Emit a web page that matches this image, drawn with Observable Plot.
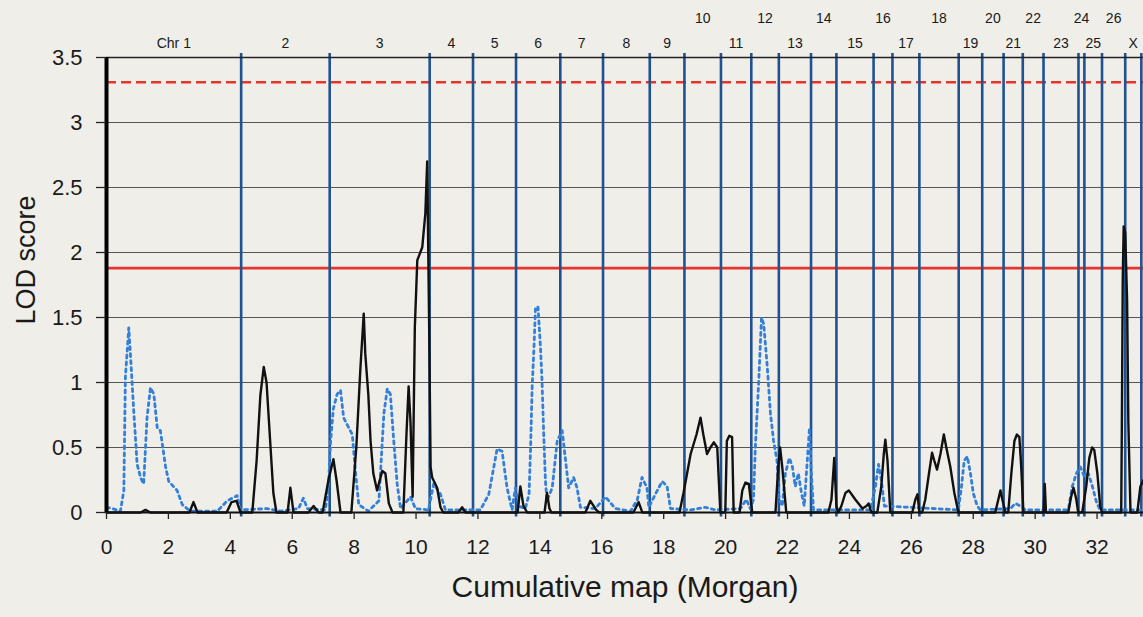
<!DOCTYPE html>
<html>
<head>
<meta charset="utf-8">
<script src="https://cdn.jsdelivr.net/npm/d3@7"></script>
<script src="https://cdn.jsdelivr.net/npm/@observablehq/plot@0.6"></script>
<style>
  html, body { margin: 0; padding: 0; background: #efeee9; }
  #chart svg { display: block; background: #efeee9; }
</style>
</head>
<body>
<div id="chart"></div>
<script>
// Chromosome names and cumulative end positions (Morgan)
const chrNames = ["Chr 1","2","3","4","5","6","7","8","9","10","11","12","13","14","15","16","17","18","19","20","21","22","23","24","25","26","X"];
const chrEnds = [4.35,7.21,10.44,11.84,13.23,14.66,16.04,17.55,18.67,19.85,20.83,21.72,22.76,23.58,24.78,25.39,26.26,27.53,28.29,28.98,29.60,30.27,31.40,31.59,32.16,32.91,33.43];
const upperRow = ["10","12","14","16","18","20","22","24","26"];

// Threshold lines (LOD)
const thresholdSolid = 1.88;
const thresholdDashed = 3.31;

// Tick values
const xTicks = [0,2,4,6,8,10,12,14,16,18,20,22,24,26,28,30,32];
const yTicks = [0,0.5,1,1.5,2,2.5,3,3.5];
const yGrid = [0.5,1,1.5,2,2.5,3];

// Solid black profile
const blackPos = [0,1.10,1.26,1.42,2.68,2.81,2.94,3.88,4.04,4.20,4.33,4.71,4.85,4.97,5.08,5.17,5.30,5.39,5.49,5.85,5.94,6.04,6.52,6.69,6.85,6.98,7.17,7.33,7.43,7.56,7.91,8.07,8.20,8.31,8.36,8.46,8.53,8.62,8.74,8.91,9.01,9.12,9.24,9.59,9.69,9.76,9.82,9.89,9.96,10.04,10.20,10.30,10.36,10.42,10.47,10.52,10.68,10.79,10.88,11.37,11.49,11.60,13.28,13.37,13.47,13.59,14.15,14.23,14.31,14.37,15.47,15.63,15.82,15.92,17.02,17.19,17.31,18.51,18.64,18.87,19.06,19.19,19.28,19.40,19.51,19.62,19.73,19.79,19.83,19.99,20.04,20.12,20.21,20.26,20.45,20.54,20.64,20.75,20.86,21.61,21.70,21.76,21.83,21.96,23.32,23.42,23.51,23.58,23.64,23.74,23.87,23.98,24.19,24.42,24.55,24.62,24.71,24.90,25.03,25.11,25.16,25.23,25.32,26.03,26.13,26.20,26.26,26.35,26.45,26.57,26.67,26.74,26.83,26.94,27.05,27.13,27.26,27.39,27.52,28.71,28.81,28.88,28.94,29.04,29.13,29.23,29.33,29.41,29.49,29.55,29.62,30.27,30.31,30.35,31.07,31.16,31.24,31.33,31.39,31.52,31.65,31.75,31.84,31.91,32.01,32.10,32.16,32.78,32.80,32.83,32.86,32.91,32.97,33.01,33.08,33.30,33.40,33.50];
const blackLod = [0,0,0.02,0,0,0.08,0,0,0.08,0.09,0,0,0.4,0.9,1.12,1.0,0.5,0.15,0,0,0.19,0,0,0.05,0,0,0.25,0.41,0.25,0,0,0.5,1.1,1.53,1.22,0.9,0.55,0.3,0.17,0.32,0.30,0.07,0,0,0.6,0.97,0.7,0.12,1.42,1.94,2.04,2.30,2.70,1.5,0.35,0.27,0.19,0.04,0,0,0.04,0,0,0.2,0.05,0,0,0.15,0.03,0,0,0.09,0.02,0,0,0.08,0,0,0.15,0.45,0.6,0.73,0.6,0.45,0.5,0.54,0.5,0.2,0,0,0.55,0.59,0.58,0,0,0.17,0.23,0.22,0,0,0.35,0.5,0.35,0,0,0.1,0.42,0.05,0,0.05,0.15,0.17,0.1,0.03,0.05,0.07,0,0,0.2,0.45,0.56,0.4,0,0,0.1,0.14,0,0,0.1,0.3,0.46,0.4,0.33,0.45,0.6,0.5,0.35,0.15,0,0,0.1,0.17,0.1,0,0,0.3,0.55,0.6,0.58,0.35,0,0,0.22,0,0,0.12,0.19,0.1,0,0,0.2,0.42,0.5,0.48,0.3,0.05,0,0,0.65,1.8,2.2,2.15,1.63,0.7,0,0,0.2,0.25];

// Dotted blue profile
const bluePos = [0,0.19,0.45,0.56,0.61,0.72,0.78,0.88,0.99,1.10,1.20,1.31,1.42,1.53,1.64,1.74,1.91,2.01,2.28,2.45,2.71,3.58,3.90,4.22,4.33,5.19,5.62,6.20,6.36,6.49,7.07,7.17,7.24,7.33,7.45,7.56,7.66,7.83,7.94,8.04,8.15,8.46,8.80,8.96,9.07,9.17,9.28,9.39,9.50,9.82,9.98,10.40,10.57,10.79,10.95,12.08,12.35,12.62,12.78,12.94,13.10,13.21,13.31,13.53,13.65,13.70,13.75,13.81,13.86,13.94,14.02,14.07,14.12,14.18,14.23,14.40,14.56,14.72,14.83,14.93,15.09,15.20,15.31,15.79,16.12,16.44,16.93,17.15,17.30,17.46,17.52,17.73,17.95,18.11,18.22,18.86,19.35,19.67,20.48,20.67,20.80,20.90,20.96,21.07,21.16,21.23,21.34,21.45,21.55,21.66,21.73,21.83,21.93,22.06,22.16,22.25,22.35,22.45,22.54,22.61,22.71,22.77,22.84,24.68,24.84,24.94,25.03,25.13,27.52,27.62,27.71,27.81,27.91,28.00,28.13,28.23,29.20,29.36,29.52,29.68,31.07,31.20,31.33,31.46,31.58,31.72,31.85,31.98,32.10,33.50];
const blueLod = [0.04,0.03,0.01,0.17,1.04,1.42,1.19,0.78,0.37,0.27,0.22,0.73,0.96,0.91,0.65,0.63,0.35,0.24,0.17,0.06,0.01,0.01,0.09,0.13,0.02,0.03,0.01,0.03,0.11,0.03,0.02,0.2,0.55,0.8,0.91,0.94,0.73,0.65,0.6,0.32,0.06,0.01,0.09,0.76,0.95,0.91,0.55,0.22,0.03,0.12,0.03,0.02,0.22,0.14,0.02,0.02,0.14,0.49,0.47,0.19,0.02,0.19,0.05,0.03,0.14,0.5,0.96,1.27,1.58,1.58,1.27,1.01,0.63,0.24,0.09,0.19,0.55,0.63,0.4,0.19,0.27,0.19,0.04,0.03,0.12,0.03,0.01,0.1,0.27,0.19,0.04,0.14,0.24,0.2,0.03,0.02,0.04,0.02,0.03,0.1,0.03,0.1,0.5,1.01,1.5,1.45,1.14,0.76,0.55,0.4,0.1,0.05,0.3,0.42,0.35,0.2,0.3,0.15,0.05,0.3,0.65,0.3,0.02,0.02,0.2,0.37,0.25,0.05,0.02,0.2,0.4,0.43,0.3,0.15,0.05,0.02,0.03,0.07,0.05,0.02,0.02,0.2,0.3,0.35,0.28,0.3,0.2,0.08,0.02,0.02];

const black = blackPos.map((x, i) => ({x, y: blackLod[i]}));
const blue = bluePos.map((x, i) => ({x, y: blueLod[i]}));
const chrs = chrNames.map((name, i) => {
  const start = i === 0 ? 0 : chrEnds[i - 1];
  return {name, mid: (start + chrEnds[i]) / 2, upper: upperRow.includes(name)};
});

const font = "Liberation Sans, Arial, Helvetica, sans-serif";
const narrow = "Liberation Sans Narrow, Arial Narrow, Liberation Sans, sans-serif";

const chart = Plot.plot({
  width: 1143,
  height: 617,
  marginLeft: 106,
  marginRight: 0,
  marginTop: 57,
  marginBottom: 105,
  style: {background: "#efeee9", fontFamily: font, color: "#1a1a1a", overflow: "visible"},
  x: {domain: [0, 33.5]},
  y: {domain: [0, 3.5]},
  marks: [
    Plot.ruleY(yGrid, {stroke: "#555", strokeWidth: 1.2}),
    Plot.ruleY([thresholdSolid], {stroke: "#e8352b", strokeWidth: 2.6}),
    Plot.ruleY([thresholdDashed], {stroke: "#e8352b", strokeWidth: 2.6, strokeDasharray: "10,5"}),
    Plot.ruleX(chrEnds, {y1: -0.035, y2: 3.53, stroke: "#1f5290", strokeWidth: 2.6}),
    Plot.line(blue, {x: "x", y: "y", stroke: "#3480d8", strokeWidth: 2.8, strokeDasharray: "3,4"}),
    Plot.line(black, {x: "x", y: "y", stroke: "#111", strokeWidth: 2.4, strokeLinejoin: "round"}),
    Plot.ruleY([3.5], {stroke: "#222", strokeWidth: 1.5}),
    Plot.ruleY([0], {stroke: "#111", strokeWidth: 2}),
    Plot.ruleX([0], {y1: 0, y2: 3.5, stroke: "#000", strokeWidth: 4}),
    Plot.axisY({ticks: yTicks, tickSize: 10, tickPadding: 14, fontSize: 22, tickFormat: d => String(d), label: null, stroke: "#222", strokeWidth: 1.3}),
    Plot.axisX({ticks: xTicks, tickSize: 7, tickPadding: 20, fontSize: 21, fontFamily: narrow, tickFormat: d => String(d), label: null, stroke: "#222", strokeWidth: 1.3}),
    Plot.text(chrs.filter(d => !d.upper), {x: "mid", y: 3.5, text: "name", dy: -14, fontSize: 14, fill: "#1a1a1a"}),
    Plot.text(chrs.filter(d => d.upper), {x: "mid", y: 3.5, text: "name", dy: -39, fontSize: 14, fill: "#1a1a1a"}),
    Plot.text(["Cumulative map (Morgan)"], {frameAnchor: "bottom", dy: 84, fontSize: 30, fontFamily: narrow, fill: "#1a1a1a"}),
    Plot.text(["LOD score"], {frameAnchor: "left", dx: -80, dy: -25, rotate: -90, textAnchor: "middle", fontSize: 27, fill: "#1a1a1a"})
  ]
});
document.getElementById("chart").appendChild(chart);
</script>
</body>
</html>
